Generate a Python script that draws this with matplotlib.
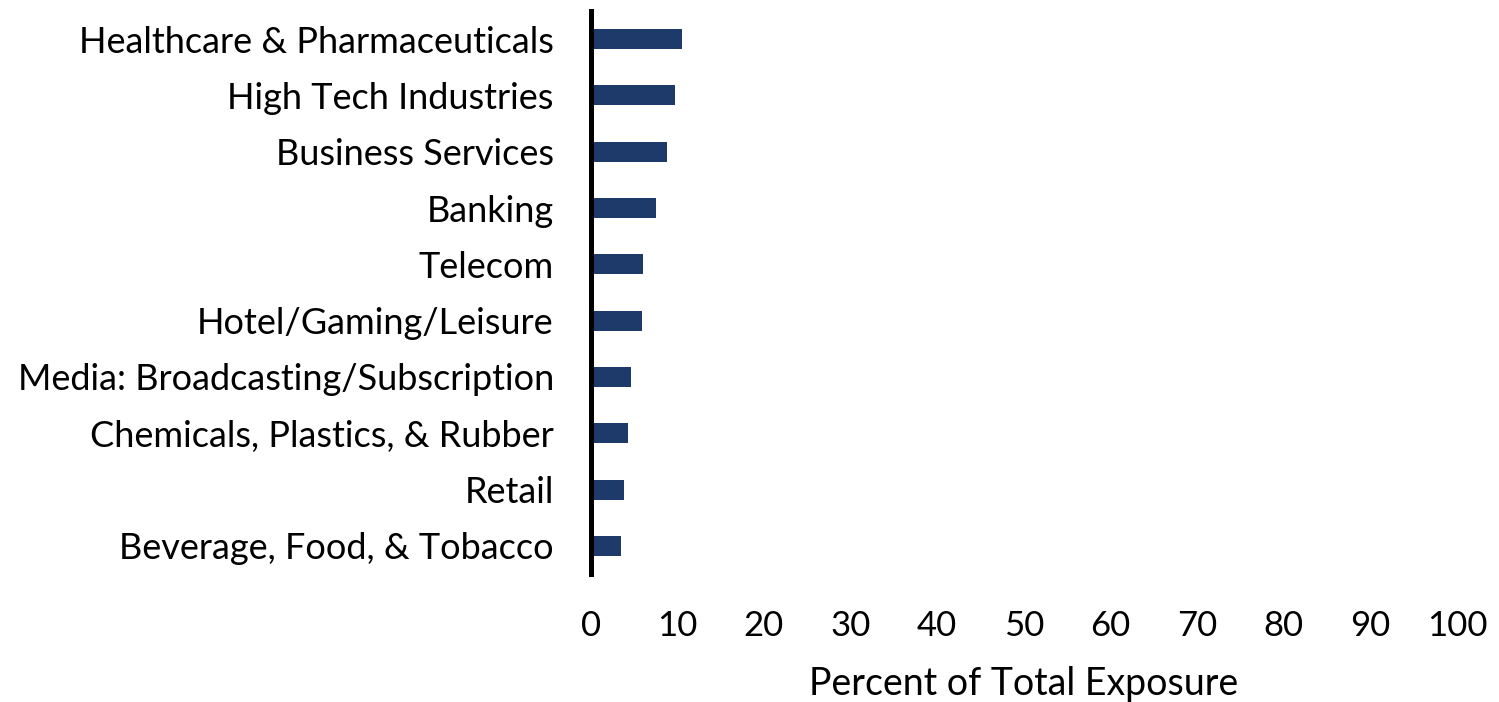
import matplotlib
matplotlib.use("Agg")
import matplotlib.pyplot as plt

# Industry exposure, top ten sectors (percent of total)
industries = [
    "Healthcare & Pharmaceuticals",
    "High Tech Industries",
    "Business Services",
    "Banking",
    "Telecom",
    "Hotel/Gaming/Leisure",
    "Media: Broadcasting/Subscription",
    "Chemicals, Plastics, & Rubber",
    "Retail",
    "Beverage, Food, & Tobacco",
]
exposure = [10.6, 9.7, 8.8, 7.6, 6.0, 5.9, 4.7, 4.3, 3.9, 3.5]
x_ticks = [0, 10, 20, 30, 40, 50, 60, 70, 80, 90, 100]

plt.rcParams["font.family"] = ["Lato", "DejaVu Sans"]

fig = plt.figure(figsize=(14.99, 7.02), dpi=100)
ax = fig.add_axes([0.394, 0.1823, 0.578, 0.802])

pos = list(range(len(industries)))
ax.barh(pos, exposure, height=0.355, color="#1e3a6a", zorder=2)

ax.set_ylim(len(industries) - 0.5, -0.5)
ax.set_xlim(0, 100)
ax.set_yticks(pos)
ax.set_yticklabels(industries, fontsize=26)
ax.set_xticks(x_ticks)
ax.set_xticklabels([str(t) for t in x_ticks], fontsize=25)
ax.tick_params(axis="y", length=0, pad=26.5)
ax.tick_params(axis="x", length=0, pad=26)

for side in ("top", "right", "bottom"):
    ax.spines[side].set_visible(False)
ax.spines["left"].set_linewidth(3.6)
ax.spines["left"].set_color("black")

ax.set_xlabel("Percent of Total Exposure", fontsize=27, labelpad=17)

fig.savefig("out.png", dpi=100)
